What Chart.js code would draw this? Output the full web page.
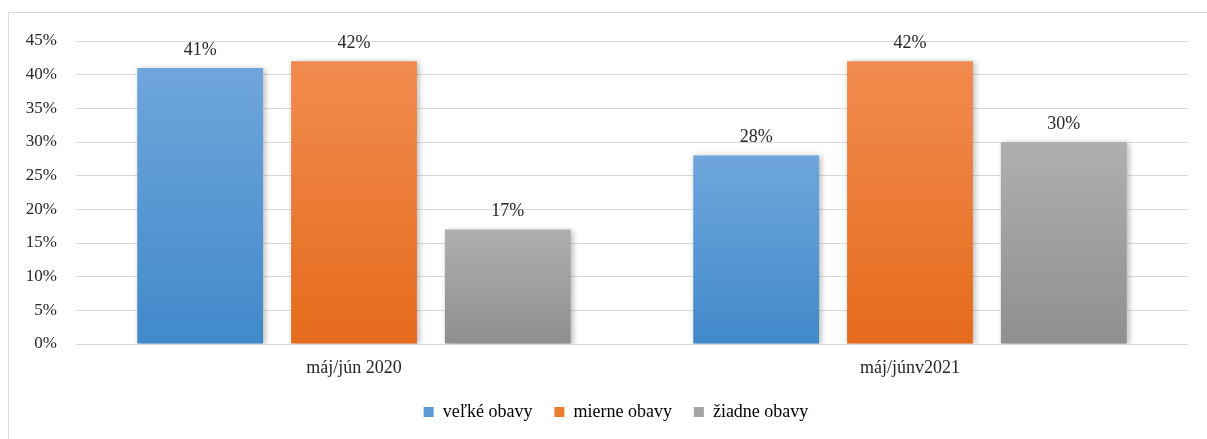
<!DOCTYPE html>
<html>
<head>
<meta charset="utf-8">
<script src="https://cdn.jsdelivr.net/npm/chart.js@4/dist/chart.umd.min.js"></script>
<style>
  html, body { margin: 0; padding: 0; background: #fff; }
  #wrap { position: relative; width: 1207px; height: 439px; overflow: hidden; }
  #frame { position: absolute; left: 8px; top: 12px; width: 1220px; height: 460px; border: 1px solid #d9d9d9; box-sizing: border-box; }
  canvas { position: absolute; left: 0; top: 0; }
</style>
</head>
<body>
<div id="wrap">
  <div id="frame"></div>
  <canvas id="c" width="1207" height="439"></canvas>
</div>
<script>
const categories = ['máj/jún 2020', 'máj/júnv2021'];
const seriesNames = ['veľké obavy', 'mierne obavy', 'žiadne obavy'];
const velkeObavy = [41, 28];
const mierneObavy = [42, 42];
const ziadneObavy = [17, 30];
const yTicks = [0, 5, 10, 15, 20, 25, 30, 35, 40, 45];

const gradStops = [
  ['#6fa6dc', '#4189ca'],
  ['#f28b4f', '#e56b1c'],
  ['#afafaf', '#8f8f8f']
];
const legendColors = ['#5b9bd5', '#ed7d31', '#a5a5a5'];
const serif = '"Liberation Serif", "Times New Roman", serif';

function barFill(i) {
  return (ctx) => {
    const chart = ctx.chart;
    if (!chart.chartArea || ctx.type !== 'data') return legendColors[i];
    const y = chart.scales.y;
    const top = y.getPixelForValue(ctx.raw);
    const bottom = y.getPixelForValue(0);
    const g = chart.ctx.createLinearGradient(0, top, 0, bottom);
    g.addColorStop(0, gradStops[i][0]);
    g.addColorStop(1, gradStops[i][1]);
    return g;
  };
}

const shadow = {
  id: 'shadow',
  beforeDatasetsDraw(chart) {
    const c = chart.ctx;
    c.save();
    c.shadowColor = 'rgba(0,0,0,0.28)';
    c.shadowBlur = 6;
    c.shadowOffsetX = 2;
    c.shadowOffsetY = 1;
  },
  afterDatasetsDraw(chart) {
    chart.ctx.restore();
  }
};

// the legend in the original sits a bit right of centre
const legendShift = {
  id: 'legendShift',
  afterLayout(chart) {
    chart.legend.left += 22;
    chart.legend.right += 22;
  }
};

const valueLabels = {
  id: 'valueLabels',
  afterDatasetsDraw(chart) {
    const c = chart.ctx;
    c.save();
    c.font = '18px ' + serif;
    c.fillStyle = '#262626';
    c.textAlign = 'center';
    c.textBaseline = 'middle';
    chart.data.datasets.forEach((ds, i) => {
      chart.getDatasetMeta(i).data.forEach((bar, j) => {
        c.fillText(ds.data[j] + '%', bar.x, bar.y - 18);
      });
    });
    c.restore();
  }
};

const data = {
  labels: categories,
  datasets: [velkeObavy, mierneObavy, ziadneObavy].map((vals, i) => ({
    label: seriesNames[i],
    data: vals,
    backgroundColor: barFill(i),
    borderWidth: 0,
    barPercentage: 0.818,
    categoryPercentage: 0.83
  }))
};

new Chart(document.getElementById('c'), {
  type: 'bar',
  data,
  plugins: [shadow, valueLabels, legendShift],
  options: {
    responsive: false,
    animation: false,
    events: [],
    layout: { padding: { top: 41, right: 19, left: 0, bottom: 8 } },
    plugins: {
      tooltip: { enabled: false },
      legend: {
        position: 'bottom',
        labels: {
          boxWidth: 10,
          boxHeight: 10,
          padding: 22,
          color: '#262626',
          font: { family: serif, size: 18 },
          generateLabels: (chart) => seriesNames.map((n, i) => ({
            text: n,
            fillStyle: legendColors[i],
            strokeStyle: legendColors[i],
            lineWidth: 0,
            datasetIndex: i,
            hidden: false
          }))
        }
      }
    },
    scales: {
      x: {
        grid: { display: false, drawTicks: false },
        border: { display: false },
        ticks: { color: '#262626', font: { family: serif, size: 18 }, padding: 13 },
        afterFit: (s) => { s.height = 37; }
      },
      y: {
        min: 0,
        max: 45,
        afterBuildTicks: (s) => { s.ticks = yTicks.map(v => ({ value: v })); },
        grid: { color: '#d9d9d9', lineWidth: 1, drawTicks: false },
        border: { display: false },
        ticks: {
          color: '#262626',
          font: { family: serif, size: 17 },
          padding: 19,
          callback: (v) => v + '%'
        },
        afterFit: (s) => { s.width = 76; }
      }
    }
  }
});
</script>
</body>
</html>
